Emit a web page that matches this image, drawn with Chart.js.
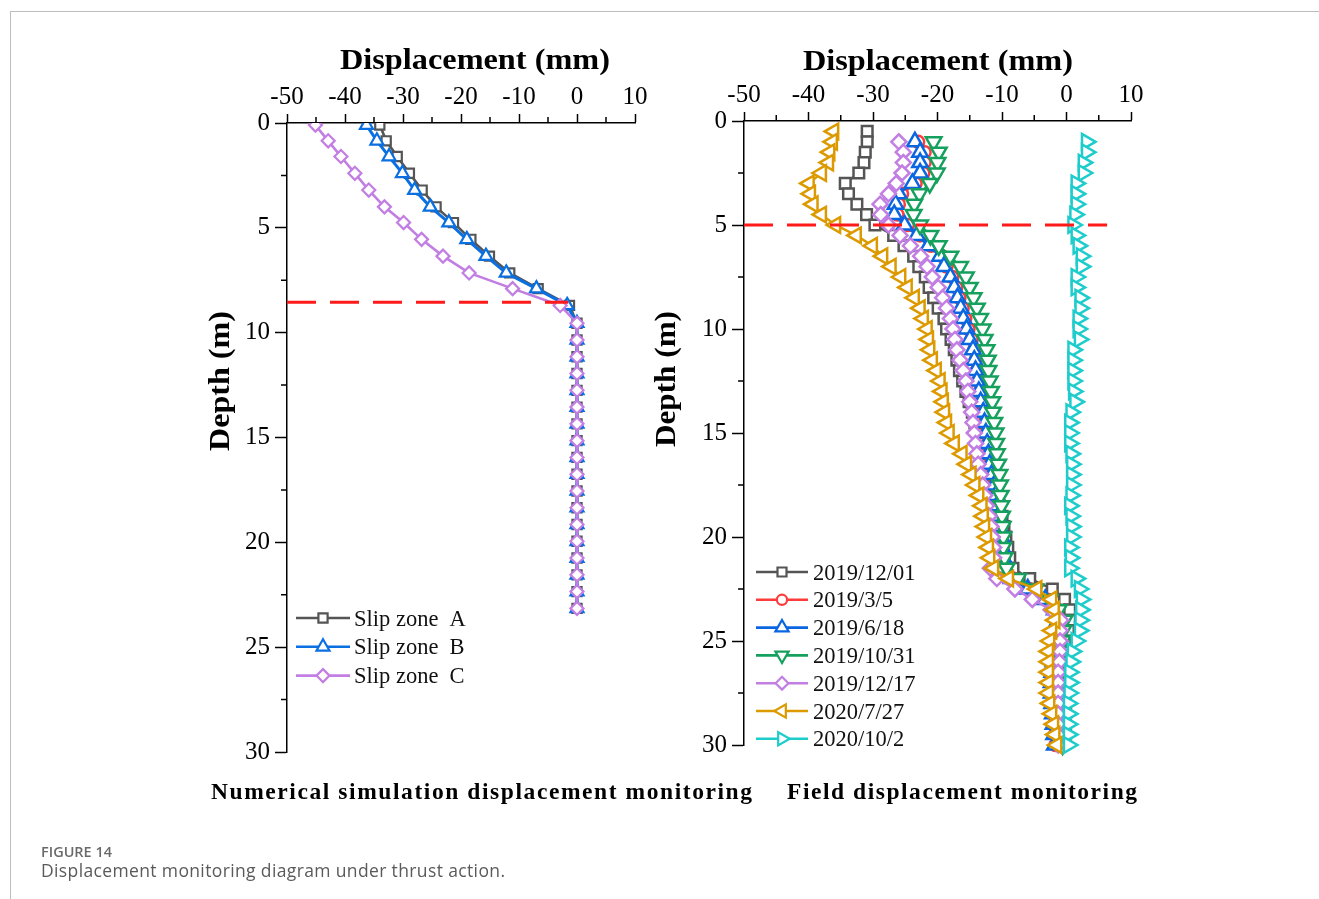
<!DOCTYPE html>
<html>
<head>
<meta charset="utf-8">
<title>Displacement monitoring diagram under thrust action</title>
<script src="https://cdn.jsdelivr.net/npm/chart.js@4.4.1/dist/chart.umd.min.js"></script>
<style>
  html, body { margin: 0; padding: 0; background: #fff; }
  body { width: 1319px; height: 899px; position: relative; overflow: hidden; }
  #frame { position: absolute; left: 10px; top: 11px; right: 0; bottom: 0;
           border-left: 1px solid #bdbdbd; border-top: 1px solid #bdbdbd; }
  canvas { position: absolute; left: 0; top: 0; }
  #ov { position: absolute; left: 0; top: 0; }
</style>
</head>
<body>
<div id="frame"></div>
<canvas id="leftChart" width="1319" height="899"></canvas>
<canvas id="rightChart" width="1319" height="899"></canvas>
<svg id="ov" width="1319" height="899" xmlns="http://www.w3.org/2000/svg"></svg>
<script>
// ---------------- DATA ----------------
// Left panel: numerical simulation (depth in m, displacement in mm)
const leftDepth = [0.1, 0.85, 1.6, 2.4, 3.2, 4.0, 4.75, 5.55, 6.35, 7.15, 7.9, 8.7,
  9.55, 10.35, 11.15, 11.95, 12.75, 13.55, 14.35, 15.15, 15.95, 16.75, 17.55, 18.35,
  19.15, 19.95, 20.75, 21.55, 22.35, 23.15];
const slipZoneA = [-34.0, -32.9, -31.0, -28.9, -26.7, -24.3, -21.3, -18.3, -15.1, -11.6, -6.7, -1.3,
  0, 0, 0, 0, 0, 0, 0, 0, 0, 0, 0, 0, 0, 0, 0, 0, 0, 0];
const slipZoneB = [-36.3, -34.5, -32.4, -30.1, -28.0, -25.3, -22.1, -19.0, -15.7, -12.2, -7.0, -1.7,
  0, 0, 0, 0, 0, 0, 0, 0, 0, 0, 0, 0, 0, 0, 0, 0, 0, 0];
const slipZoneC = [-45.1, -42.9, -40.7, -38.3, -35.9, -33.2, -29.9, -26.8, -23.1, -18.6, -11.1, -2.9,
  0, 0, 0, 0, 0, 0, 0, 0, 0, 0, 0, 0, 0, 0, 0, 0, 0, 0];
const leftNames = ['Slip zone\u00a0\u00a0A', 'Slip zone\u00a0\u00a0B', 'Slip zone\u00a0\u00a0C'];
const leftSlipDepth = 8.55;
const leftSlipX = [-50, -1.5];

// Right panel: field monitoring
const rightDepth = [0.5, 1, 1.5, 2, 2.5, 3, 3.5, 4, 4.5, 5,
  5.5, 6, 6.5, 7, 7.5, 8, 8.5, 9, 9.5, 10,
  10.5, 11, 11.5, 12, 12.5, 13, 13.5, 14, 14.5, 15,
  15.5, 16, 16.5, 17, 17.5, 18, 18.5, 19, 19.5, 20,
  20.5, 21, 21.5, 22, 22.5, 23, 23.5, 24, 24.5, 25,
  25.5, 26, 26.5, 27, 27.5, 28, 28.5, 29, 29.5, 30];
const d20191201 = [-30.9, -30.9, -31.2, -31.4, -32.2, -34.3, -33.8, -32.5, -31.0, -29.7,
  -26.8, -25.2, -23.7, -22.9, -21.9, -21.3, -20.6, -19.9, -19.0, -18.6,
  -17.9, -17.4, -17.0, -16.6, -16.1, -15.6, -15.1, -14.6, -14.2, -13.8,
  -13.3, -12.9, -12.4, -11.9, -11.4, -10.9, -10.4, -10.0, -9.7, -9.4,
  -9.1, -8.8, -8.3, -5.7, -2.2, -0.3, 0.5, 0.5, 0.3, -0.2,
  -0.5, -0.7, -0.8, -0.8, -0.9, -0.9, -1.0, -1.0, -1.0, -1.0];
const d2019035 = [null, -23.0, -22.0, -22.0, -22.2, -23.4, -25.5, -26.0, -26.2, -24.6,
  -22.7, -21.0, -19.3, -18.6, -17.7, -17.1, -16.6, -16.1, -15.7, -15.2,
  -14.7, -14.3, -14.1, -13.9, -13.7, -13.4, -13.1, -12.8, -12.6, -12.4,
  -12.2, -12.0, -11.8, -11.5, -11.1, -10.9, -10.7, -10.5, -10.3, -10.0,
  -9.9, -9.7, -9.7, -8.3, -5.8, -3.1, -1.6, -1.2, -1.3, -1.4,
  -1.6, -1.9, -2.1, -2.2, -2.2, -2.1, -2.0, -1.9, -1.8, -1.7];
const d2019618 = [null, -23.5, -22.7, -22.7, -22.7, -23.9, -26.0, -26.5, -26.7, -25.1,
  -23.2, -21.4, -19.6, -19.0, -18.0, -17.4, -16.9, -16.4, -16.0, -15.5,
  -15.0, -14.5, -14.3, -14.1, -13.9, -13.6, -13.3, -12.9, -12.7, -12.5,
  -12.3, -12.1, -11.9, -11.6, -11.2, -11.0, -10.8, -10.6, -10.4, -10.1,
  -10.0, -9.8, -9.9, -8.5, -6.0, -3.3, -1.8, -1.3, -1.3, -1.5,
  -1.7, -2.0, -2.2, -2.3, -2.3, -2.2, -2.1, -2.0, -1.9, -1.8];
const d20191031 = [null, -20.6, -19.8, -20.0, -20.1, -21.2, -22.8, -23.6, -23.7, -22.7,
  -21.1, -19.8, -18.0, -16.5, -15.6, -15.0, -14.4, -13.9, -13.4, -13.0,
  -12.7, -12.4, -12.2, -12.1, -11.9, -11.7, -11.5, -11.4, -11.2, -11.0,
  -10.9, -10.8, -10.6, -10.4, -10.3, -10.2, -10.1, -10.0, -9.9, -9.8,
  -9.8, -9.6, -9.3, -7.5, -4.8, -2.6, -1.2, -0.3, -0.5, -0.6,
  -0.7, -0.7, -0.7, -0.7, -0.7, -0.6, -0.6, -0.6, -0.6, -0.6];
const d20191217 = [null, -26.0, -25.3, -25.3, -25.5, -26.4, -27.6, -28.9, -28.8, -27.6,
  -25.8, -24.2, -22.6, -21.6, -20.8, -19.9, -19.2, -18.6, -18.0, -17.6,
  -17.3, -17.0, -16.5, -16.0, -15.6, -15.3, -15.0, -14.7, -14.5, -14.3,
  -14.1, -13.9, -13.7, -13.3, -13.0, -12.7, -12.4, -12.0, -11.7, -11.5,
  -11.3, -11.3, -11.8, -10.8, -8.0, -5.3, -2.4, -0.9, -1.0, -1.0,
  -1.0, -1.1, -1.3, -1.3, -1.3, -1.3, -1.3, -1.3, -1.3, -1.3];
const d2020727 = [-36.1, -36.3, -36.7, -36.9, -38.0, -39.9, -39.7, -39.3, -38.0, -35.8,
  -32.6, -30.1, -28.5, -27.2, -25.7, -24.7, -23.6, -22.7, -22.2, -21.6,
  -21.4, -21.2, -20.8, -20.2, -19.6, -19.3, -19.1, -18.9, -18.6, -18.2,
  -17.4, -16.2, -15.5, -14.8, -14.2, -13.6, -13.1, -12.9, -12.7, -12.4,
  -12.1, -11.9, -11.3, -9.0, -4.6, -2.3, -1.9, -1.8, -2.3, -2.6,
  -2.8, -2.8, -2.8, -2.8, -2.8, -2.6, -2.3, -2.0, -1.8, -1.5];
const d2020102 = [null, 3.1, 3.1, 2.6, 2.6, 1.5, 1.5, 1.5, 1.3, 1.0,
  1.5, 1.8, 2.3, 2.3, 1.5, 1.5, 2.1, 2.1, 1.8, 1.8,
  2.0, 1.0, 1.0, 1.0, 1.0, 1.1, 1.3, 0.7, 0.5, 0.5,
  0.5, 0.7, 0.8, 0.8, 0.8, 0.7, 0.5, 0.7, 0.8, 0.8,
  0.5, 0.6, 0.5, 1.5, 2.0, 2.3, 2.2, 2.1, 2.0, 1.5,
  0.9, 0.7, 0.5, 0.5, 0.4, 0.3, 0.3, 0.3, 0.3, 0.3];
const rightNames = ['2019/12/01', '2019/3/5', '2019/6/18', '2019/10/31', '2019/12/17', '2020/7/27', '2020/10/2'];
const rightSlipDepth = 5.0;
const rightSlipX = [-50, 6.3];

// axis tick values
const xMinorTicks = [-45, -35, -25, -15, -5, 5];
const yMinorTicks = [2.5, 7.5, 12.5, 17.5, 22.5, 27.5];

// ---------------- STYLES ----------------
const SERIF = "'Liberation Serif','Times New Roman',Times,serif";
const leftStyles = [
  { color: '#555555', shape: 'rect', r: 6.5, rot: 0, lw: 2.6 },
  { color: '#0a6fe0', shape: 'triangle', r: 7.5, rot: 0, lw: 3.0 },
  { color: '#c27ee2', shape: 'rectRot', r: 6.5, rot: 0, lw: 2.6 }
];
const rightStyles = [
  { color: '#555555', shape: 'rect', r: 7.5, rot: 0 },
  { color: '#ff3b3b', shape: 'circle', r: 6, rot: 0 },
  { color: '#0a66e0', shape: 'triangle', r: 9, rot: 0 },
  { color: '#16a05e', shape: 'triangle', r: 9, rot: 180 },
  { color: '#c27ee2', shape: 'rectRot', r: 7.5, rot: 0 },
  { color: '#dc9a00', shape: 'triangle', r: 9, rot: 270 },
  { color: '#1fcccc', shape: 'triangle', r: 9, rot: 90 }
];

function toPoints(vals, depths) {
  const out = [];
  vals.forEach((v, i) => { if (v !== null) out.push({ x: v, y: depths[i] }); });
  return out;
}

function makeScales(yWidth, xHeight) {
  const tickFont = { family: SERIF, size: 25 };
  return {
    x: {
      type: 'linear', position: 'top', min: -50, max: 10,
      ticks: { stepSize: 10, color: '#000', font: tickFont, padding: 2, maxRotation: 0, autoSkip: false },
      grid: { display: true, drawOnChartArea: false, drawTicks: true, tickLength: 9, tickColor: '#000', tickWidth: 1.5 },
      border: { display: true, color: '#000', width: 1.5 },
      afterFit: (s) => { s.height = xHeight; }
    },
    y: {
      type: 'linear', position: 'left', reverse: true, min: 0, max: 30,
      ticks: { stepSize: 5, color: '#000', font: tickFont, padding: 5, autoSkip: false },
      grid: { display: true, drawOnChartArea: false, drawTicks: true, tickLength: 12, tickColor: '#000', tickWidth: 1.5 },
      border: { display: true, color: '#000', width: 1.5 },
      afterFit: (s) => { s.width = yWidth; }
    }
  };
}

const minorTickPlugin = {
  id: 'minorTicks',
  afterDraw(chart, args, opts) {
    const { ctx, chartArea: a, scales: { x, y } } = chart;
    ctx.save();
    ctx.strokeStyle = '#000';
    ctx.lineWidth = 1.5;
    ctx.beginPath();
    opts.xValues.forEach(v => { const p = x.getPixelForValue(v); ctx.moveTo(p, a.top); ctx.lineTo(p, a.top - opts.len); });
    opts.yValues.forEach(v => { const p = y.getPixelForValue(v); ctx.moveTo(a.left, p); ctx.lineTo(a.left - opts.len, p); });
    ctx.stroke();
    ctx.restore();
  }
};

function seriesDataset(label, vals, depths, st, idx, lw, pbw, clip) {
  return {
    label: label, data: toPoints(vals, depths), showLine: true,
    borderColor: st.color, borderWidth: lw, backgroundColor: '#fff',
    pointStyle: st.shape, pointRadius: st.r, pointHoverRadius: st.r, pointRotation: st.rot,
    pointBorderColor: st.color, pointBackgroundColor: '#fff', pointBorderWidth: pbw,
    tension: 0, order: -idx, clip: clip
  };
}

function slipDataset(xs, depth) {
  return {
    label: 'slip surface', data: xs.map(v => ({ x: v, y: depth })), showLine: true,
    borderColor: '#ff1a1a', borderWidth: 3, borderDash: [29, 14], pointRadius: 0, pointHoverRadius: 0,
    order: -100, clip: false
  };
}

function baseOptions(padding, yWidth, xHeight) {
  return {
    responsive: false, animation: false, devicePixelRatio: 1,
    layout: { padding: padding },
    scales: makeScales(yWidth, xHeight),
    plugins: {
      legend: { display: false }, tooltip: { enabled: false }, title: { display: false },
      minorTicks: { xValues: xMinorTicks, yValues: yMinorTicks, len: 6 }
    },
    events: []
  };
}

// Left chart
const leftSeries = [slipZoneA, slipZoneB, slipZoneC];
const leftDatasets = leftSeries.map((vals, i) =>
  seriesDataset(leftNames[i], vals, leftDepth, leftStyles[i], i, leftStyles[i].lw, 2.2, undefined));
leftDatasets.push(slipDataset(leftSlipX, leftSlipDepth));

new Chart(document.getElementById('leftChart'), {
  type: 'scatter',
  data: { datasets: leftDatasets },
  options: baseOptions({ left: 199, right: 684, top: 40, bottom: 147 }, 88, 83),
  plugins: [minorTickPlugin]
});

// Right chart
const rightSeries = [d20191201, d2019035, d2019618, d20191031, d20191217, d2020727, d2020102];
const rightDatasets = rightSeries.map((vals, i) =>
  seriesDataset(rightNames[i], vals, rightDepth, rightStyles[i], i, 2.4, 2.5, false));
rightDatasets.push(slipDataset(rightSlipX, rightSlipDepth));

new Chart(document.getElementById('rightChart'), {
  type: 'scatter',
  data: { datasets: rightDatasets },
  options: baseOptions({ left: 645, right: 188, top: 39, bottom: 154 }, 99, 82),
  plugins: [minorTickPlugin]
});

// ---------------- OVERLAY TEXT / LEGENDS ----------------
const NS = 'http://www.w3.org/2000/svg';
const ov = document.getElementById('ov');
function el(tag, attrs, text, parent) {
  const e = document.createElementNS(NS, tag);
  for (const k in attrs) e.setAttribute(k, attrs[k]);
  if (text !== undefined) e.textContent = text;
  (parent || ov).appendChild(e);
  return e;
}
function marker(st, cx, cy, r) {
  if (st.shape === 'circle') return el('circle', { cx: cx, cy: cy, r: r, fill: '#fff', stroke: st.color, 'stroke-width': 2.2 });
  let d;
  if (st.shape === 'rect') {
    const s = r * Math.SQRT1_2;
    d = `M${cx - s} ${cy - s}H${cx + s}V${cy + s}H${cx - s}Z`;
  } else if (st.shape === 'rectRot') {
    d = `M${cx - r} ${cy}L${cx} ${cy - r}L${cx + r} ${cy}L${cx} ${cy + r}Z`;
  } else {
    let a = st.rot * Math.PI / 180;
    const p = [];
    for (let k = 0; k < 3; k++) { p.push([cx + Math.sin(a) * r, cy - Math.cos(a) * r]); a += 2 * Math.PI / 3; }
    d = `M${p[0][0]} ${p[0][1]}L${p[1][0]} ${p[1][1]}L${p[2][0]} ${p[2][1]}Z`;
  }
  return el('path', { d: d, fill: '#fff', stroke: st.color, 'stroke-width': 2.2 });
}
function legend(names, styles, x0, x1, xm, xt, yStart, yStep, rScale, fontSize) {
  names.forEach((n, i) => {
    const y = yStart + i * yStep;
    el('line', { x1: x0, y1: y, x2: x1, y2: y, stroke: styles[i].color, 'stroke-width': 2.6 });
    marker(styles[i], xm, y, styles[i].r * rScale);
    el('text', { x: xt, y: y + 7.5, 'font-family': SERIF, 'font-size': fontSize, fill: '#111' }, n);
  });
}
legend(leftNames, leftStyles, 296, 350, 323, 354, 618, 28.8, 1.0, 22.5);
legend(rightNames, rightStyles, 756, 808, 782, 813, 572, 27.8, 0.85, 22.5);

function title(text, x, y, size, len, rotate) {
  const g = el('g', { transform: `translate(${x},${y})` + (rotate ? ' rotate(-90)' : '') });
  el('text', { x: 0, y: 0, 'text-anchor': 'middle', 'font-family': SERIF, 'font-weight': 'bold',
    'font-size': size, fill: '#000', textLength: len, lengthAdjust: 'spacingAndGlyphs' }, text, g);
}
title('Displacement (mm)', 475, 69, 29, 270, false);
title('Displacement (mm)', 938, 70, 29, 270, false);
title('Depth (m)', 229, 381, 30, 140, true);
title('Depth (m)', 675, 379, 30, 136, true);

function bottomTitle(text, x, y, len) {
  el('text', { x: x, y: y, 'font-family': SERIF, 'font-weight': 'bold', 'font-size': 23.5, fill: '#000',
    textLength: len, lengthAdjust: 'spacing' }, text);
}
bottomTitle('Numerical simulation displacement monitoring', 211, 799, 541);
bottomTitle('Field displacement monitoring', 787, 799, 350);

el('text', { x: 41, y: 857, 'font-family': "'Open Sans','Lato',sans-serif", 'font-weight': 600, 'font-size': 15, fill: '#6a6a6a',
  textLength: 71, lengthAdjust: 'spacingAndGlyphs' }, 'FIGURE 14');
el('text', { x: 41, y: 877, 'font-family': "'Open Sans','Lato',sans-serif", 'font-size': 17.5, fill: '#5a5a5a',
  textLength: 464, lengthAdjust: 'spacing' }, 'Displacement monitoring diagram under thrust action.');
</script>
</body>
</html>
